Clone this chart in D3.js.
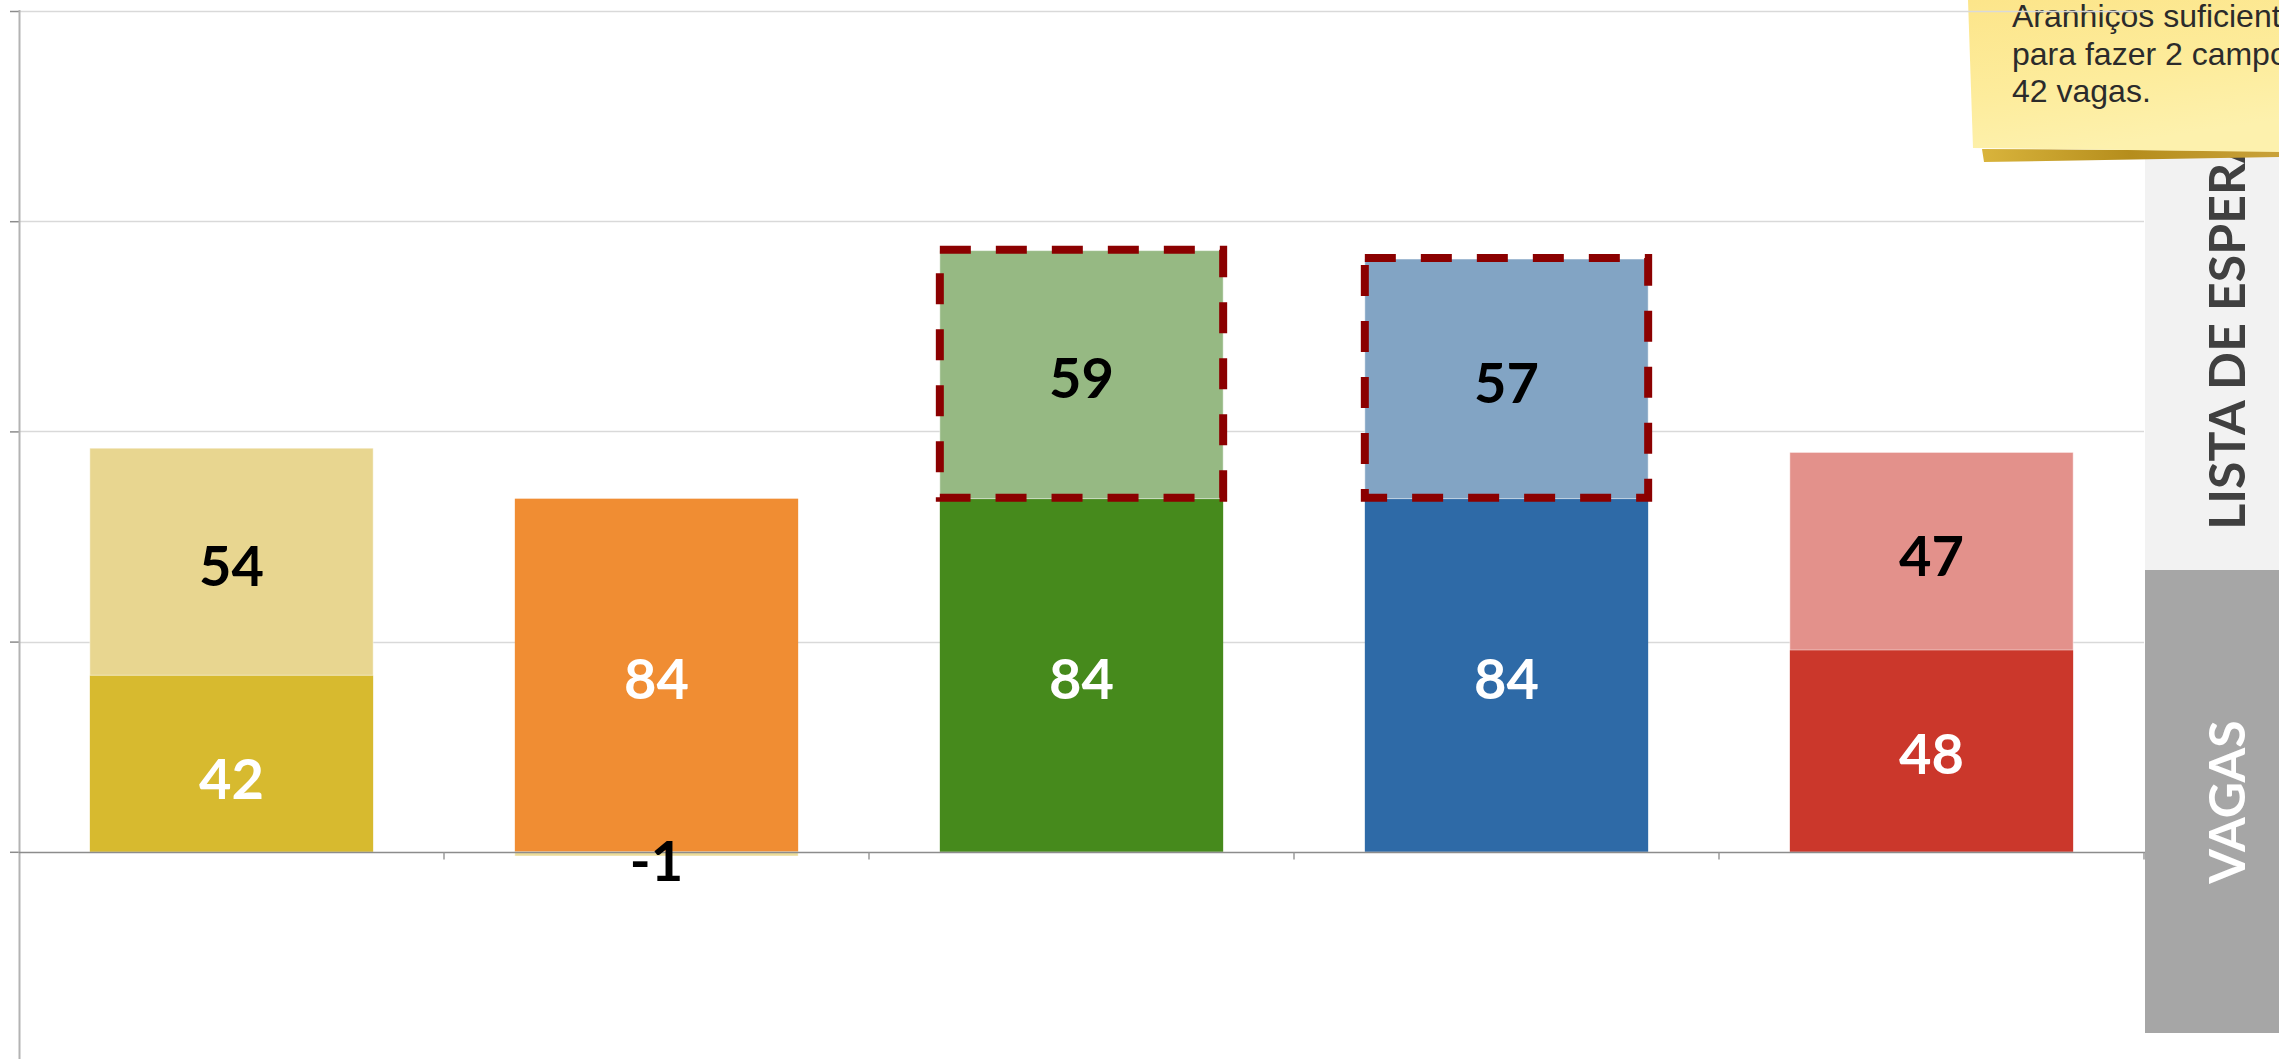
<!DOCTYPE html>
<html>
<head>
<meta charset="utf-8">
<script src="https://cdn.jsdelivr.net/npm/d3@7"></script>
<style>
  html, body { margin: 0; padding: 0; background: #ffffff; overflow: hidden; }
  svg { display: block; }
</style>
</head>
<body>
<svg id="chart" width="2279" height="1059"></svg>
<script>
// ---- data ----
const categories = ["Amarelo", "Laranja", "Verde", "Azul", "Vermelho"];
const vagas = [42, 84, 84, 84, 48];
const listaEspera = [54, -1, 59, 57, 47];
const destacado = [false, false, true, true, false];
const yTicks = [0, 50, 100, 150, 200];
const seriesLabels = ["VAGAS", "LISTA DE ESPERA"];
const noteLines = ["Aranhiços suficientes", "para fazer 2 campos de", "42 vagas."];

// ---- styles ----
const darkColors = ["#d7ba2f", "#f08d33", "#468a1c", "#2e6aa7", "#cb372b"];
const lightColors = ["#e8d690", "#ecdc98", "#96b983", "#82a4c4", "#e3918b"];
const bottomLabelNudge = [14, 2, 2, 2, 2];   // px, style only
const topLabelNudge = [3, 6, 2, 3, 3];

const W = 2279, H = 1059;
const plot = { left: 19, right: 2144 };
const svg = d3.select("#chart");
const defs = svg.append("defs");

// ---- scales ----
const x = d3.scaleBand().domain(categories).range([plot.left, plot.right])
  .paddingInner(1 / 3).paddingOuter(1 / 6);
const y = d3.scaleLinear().domain([-50, 200]).range([1062, 11]);

// ---- side legend panels ----
const panels = svg.append("g");
panels.append("rect").attr("x", 2145).attr("y", 92).attr("width", W - 2145).attr("height", 570 - 92).attr("fill", "#f2f2f2");
panels.append("rect").attr("x", 2145).attr("y", 570).attr("width", W - 2145).attr("height", 1033 - 570).attr("fill", "#a6a6a6");
panels.append("text").text(seriesLabels[0])
  .attr("transform", "translate(2226,802) rotate(-90)")
  .attr("text-anchor", "middle").attr("dominant-baseline", "central")
  .attr("font-family", "Lato").attr("font-weight", "700").attr("font-size", 50)
  .attr("fill", "#ffffff");
panels.append("text").text(seriesLabels[1])
  .attr("transform", "translate(2226,329) rotate(-90)")
  .attr("text-anchor", "middle").attr("dominant-baseline", "central")
  .attr("font-family", "Lato").attr("font-weight", "700").attr("font-size", 50)
  .attr("fill", "#404040");

// ---- sticky note ----
const ng = defs.append("linearGradient").attr("id", "noteFill").attr("x1", 0).attr("y1", 0).attr("x2", 0.3).attr("y2", 1);
ng.append("stop").attr("offset", "0%").attr("stop-color", "#fce58a");
ng.append("stop").attr("offset", "60%").attr("stop-color", "#fdec9c");
ng.append("stop").attr("offset", "100%").attr("stop-color", "#fdf1ad");
const sg = defs.append("linearGradient").attr("id", "noteShadow").attr("x1", 0).attr("y1", 0).attr("x2", 1).attr("y2", 0);
sg.append("stop").attr("offset", "0%").attr("stop-color", "#d9b43c");
sg.append("stop").attr("offset", "50%").attr("stop-color", "#b58d1c");
sg.append("stop").attr("offset", "100%").attr("stop-color", "#c9a23a");
const note = svg.append("g");
note.append("path").attr("d", "M1982,149 L2279,151 L2279,157 L1984,162 Z").attr("fill", "url(#noteShadow)");
note.append("path").attr("d", "M1968,0 L2279,0 L2279,152 L1973,148 Z").attr("fill", "url(#noteFill)");
note.selectAll("text.note").data(noteLines).join("text")
  .attr("class", "note")
  .attr("x", 2012).attr("y", (d, i) => 27 + i * 37.5)
  .attr("font-family", "Liberation Sans, Arial, sans-serif").attr("font-size", 32)
  .attr("fill", "#2b2b2b").text(d => d);

// ---- gridlines ----
const grid = svg.append("g");
grid.selectAll("line.grid").data(yTicks.filter(t => t !== 0)).join("line")
  .attr("x1", plot.left).attr("x2", plot.right)
  .attr("y1", d => Math.round(y(d)) + 0.5).attr("y2", d => Math.round(y(d)) + 0.5)
  .attr("stroke", "#d9d9d9").attr("stroke-width", 1.4);

// ---- stacked bars ----
const rows = categories.map((c, i) => ({ cat: c, vagas: vagas[i], lista: listaEspera[i], i }));
const stacked = d3.stack().keys(["vagas", "lista"]).offset(d3.stackOffsetDiverging)(rows);

const bars = svg.append("g");
stacked.forEach((layer, li) => {
  bars.selectAll("rect.l" + li).data(layer).join("rect")
    .attr("class", "l" + li)
    .attr("x", d => x(d.data.cat))
    .attr("width", x.bandwidth())
    .attr("y", d => y(Math.max(d[0], d[1])))
    .attr("height", d => Math.abs(y(d[0]) - y(d[1])))
    .attr("fill", d => li === 0 ? darkColors[d.data.i] : lightColors[d.data.i])
    .attr("stroke", li === 1 ? "rgba(255,255,255,0.45)" : "none")
    .attr("stroke-width", 1);
});

// ---- axes ----
const yAxis = d3.axisLeft(y).tickValues(yTicks).tickSize(9).tickFormat("");
const ya = svg.append("g").attr("transform", `translate(${plot.left},0)`).call(yAxis);
ya.select(".domain").remove();
ya.selectAll(".tick line").attr("stroke", "#8c8c8c").attr("stroke-width", 1.5);
svg.append("line").attr("x1", plot.left + 0.5).attr("x2", plot.left + 0.5)
  .attr("y1", 10).attr("y2", H).attr("stroke", "#b3b3b3").attr("stroke-width", 2);

// baseline + category boundary ticks
const y0 = Math.round(y(0)) + 0.5;
svg.append("line").attr("x1", plot.left).attr("x2", plot.right + 1)
  .attr("y1", y0).attr("y2", y0).attr("stroke", "#8c8c8c").attr("stroke-width", 1.6);
const boundaries = d3.range(categories.length + 1).map(i => plot.left + i * x.step());
svg.selectAll("line.xt").data(boundaries.slice(1)).join("line")
  .attr("class", "xt")
  .attr("x1", d => d).attr("x2", d => d).attr("y1", y0).attr("y2", y0 + 7)
  .attr("stroke", "#9a9a9a").attr("stroke-width", 1.5);

// ---- dashed highlight ----
bars.selectAll("rect.hl").data(stacked[1].filter(d => destacado[d.data.i])).join("rect")
  .attr("class", "hl")
  .attr("x", d => x(d.data.cat))
  .attr("width", x.bandwidth())
  .attr("y", d => y(Math.max(d[0], d[1])) - 1)
  .attr("height", d => Math.abs(y(d[0]) - y(d[1])))
  .attr("fill", "none").attr("stroke", "#8b0000").attr("stroke-width", 8)
  .attr("stroke-dasharray", "31,25");

// ---- value labels ----
stacked.forEach((layer, li) => {
  svg.selectAll("text.v" + li).data(layer).join("text")
    .attr("class", "v" + li)
    .attr("x", d => x(d.data.cat) + x.bandwidth() / 2)
    .attr("y", d => (y(d[0]) + y(d[1])) / 2 + (li === 0 ? bottomLabelNudge[d.data.i] : topLabelNudge[d.data.i]))
    .attr("text-anchor", "middle").attr("dominant-baseline", "central")
    .attr("font-family", "Lato").attr("font-weight", "700").attr("font-size", 56)
    .attr("fill", li === 0 ? "#ffffff" : "#000000")
    .text(d => li === 0 ? d.data.vagas : d.data.lista);
});
</script>
</body>
</html>
